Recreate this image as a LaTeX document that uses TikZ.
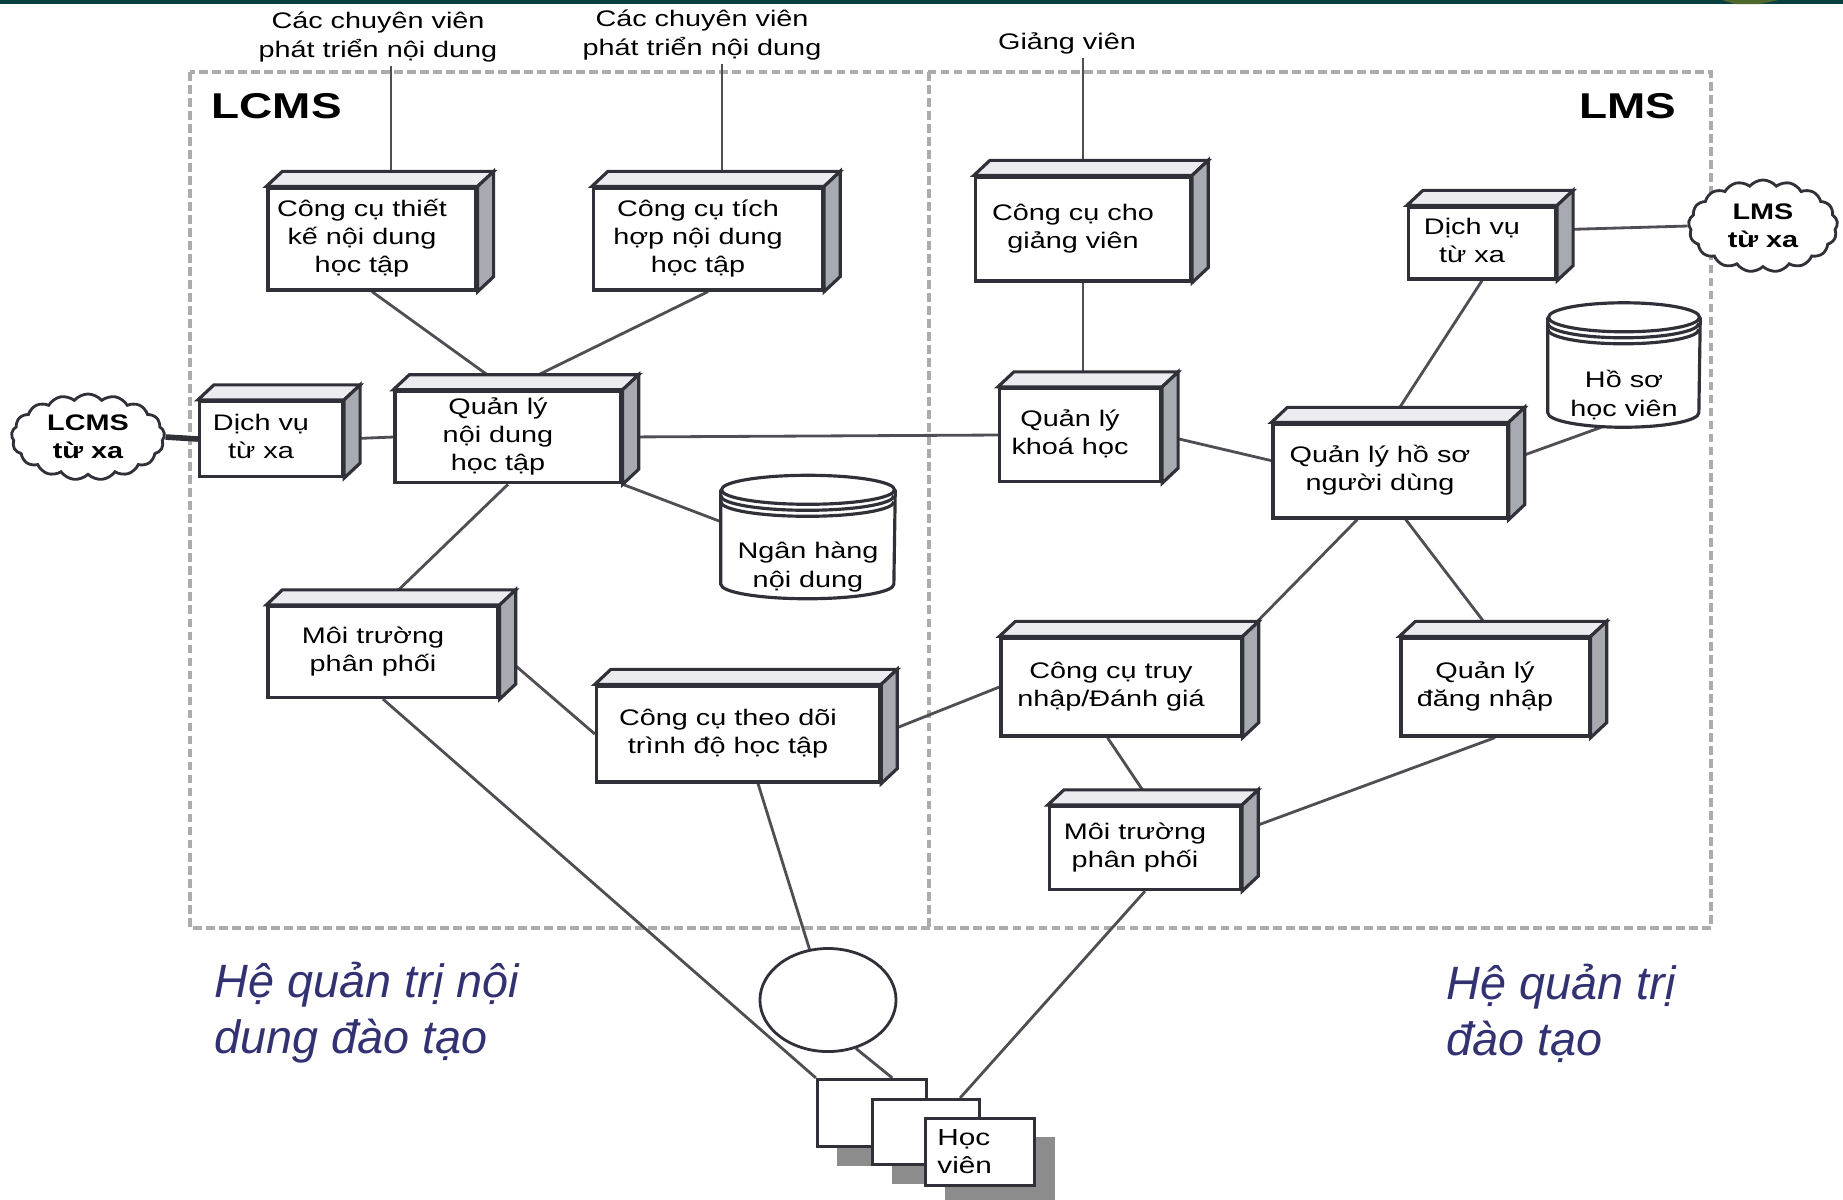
\documentclass[tikz,border=0pt]{standalone}
\usepackage{fontspec}
\setmainfont{Liberation Sans}
\newfontfamily\boxfont[FakeStretch=1.28]{Liberation Sans}
\usetikzlibrary{calc,shapes.geometric,shapes.symbols,shadows}
\definecolor{boxline}{RGB}{48,48,56}
\definecolor{wiregray}{RGB}{78,78,84}
\definecolor{sidegray}{RGB}{168,170,178}
\definecolor{topgray}{RGB}{236,236,240}
\definecolor{textslate}{RGB}{50,50,115}
\definecolor{bandteal}{RGB}{8,64,64}
\definecolor{leafgreen}{RGB}{78,104,44}
\pgfdeclarelayer{background}
\pgfsetlayers{background,main}
\def\cube#1{%
	\draw[boxline, line width=0.9pt, fill=topgray] (#1.north west) -- ++(0.16cm,0.15cm) -- ([shift={(0.16cm,0.15cm)}]#1.north east) -- (#1.north east) -- cycle;
	\draw[boxline, line width=0.9pt, fill=sidegray] (#1.north east) -- ++(0.16cm,0.15cm) -- ([shift={(0.16cm,0.15cm)}]#1.south east) -- (#1.south east) -- cycle;
}
\def\drum#1#2#3#4#5{%
	\node[minimum width={2*#3}, minimum height=#4, inner sep=0pt] (#1) at (#2) {};
	\draw[boxline, line width=0.9pt, fill=white] ([yshift=-1.45mm]#1.north west) -- ([yshift=1.45mm]#1.south west) arc (180:360:#3 and 1.45mm) -- ([yshift=-1.45mm]#1.north east);
	\draw[boxline, line width=0.9pt, fill=white] ([yshift=-1.45mm]#1.north) ellipse (#3 and 1.45mm);
	\draw[boxline, line width=0.9pt] ([yshift=-2.05mm]#1.north west) arc (180:360:#3 and 1.45mm);
	\draw[boxline, line width=0.9pt] ([yshift=-2.65mm]#1.north west) arc (180:360:#3 and 1.45mm);
	\node[toplabel] (#1t) at ([yshift=-3mm]#1.center) {#5};
}
% box text sits a little left of the box centre
\def\lines#1{\begin{tabular}{@{}c@{}}#1\end{tabular}\hspace*{2mm}}

\begin{document}
\begin{tikzpicture}[x=0.01cm, y=-0.01cm,
		unitbox/.style={draw=boxline, line width=0.9pt, fill=white, inner sep=1pt, font=\boxfont\fontsize{6.4}{8}\selectfont},
		toplabel/.style={align=center, inner sep=1pt, font=\boxfont\fontsize{6.4}{8}\selectfont},
		wireline/.style={draw=wiregray, line width=0.8pt},
		frameline/.style={draw=gray!65, line width=1.1pt, dash pattern=on 2.5pt off 1.2pt},
		remotecloud/.style={cloud, cloud puffs=17, cloud puff arc=100, draw=boxline, line width=0.8pt, fill=white, align=center, inner sep=0pt, font=\boxfont\bfseries\fontsize{6.4}{8}\selectfont},
		sysname/.style={inner sep=0pt, font=\boxfont\bfseries\fontsize{10.2}{12}\selectfont},
		areanote/.style={align=left, inner sep=0pt, text=textslate, font=\itshape\fontsize{13.3}{15.9}\selectfont}]
	%%%%% START %%%%%
	
	\useasboundingbox (0,0) rectangle (1843,1199);
	\fill[bandteal] (0,0) rectangle (1843,4);
	\fill[leafgreen] (1722,0) -- (1778,0) -- (1760,4) -- (1735,4) -- cycle;
	
	\node[toplabel] (devA) at (378,37) {Các chuyên viên\\phát triển nội dung};
	\node[toplabel] (devB) at (702,35) {Các chuyên viên\\phát triển nội dung};
	\node[toplabel] (lect) at (1067,43) {Giảng viên};
	\node[sysname, anchor=west] (lcms) at (211,106) {LCMS};
	\node[sysname] (lms) at (1628,106) {LMS};
	
	% LCMS side
	\node[unitbox, minimum width=2.08cm, minimum height=1.02cm] (dsgn) at (372,239) {\lines{Công cụ thiết\\kế nội dung\\học tập}};
	\cube{dsgn}
	\node[unitbox, minimum width=2.29cm, minimum height=1.02cm] (integ) at (708,239) {\lines{Công cụ tích\\hợp nội dung\\học tập}};
	\cube{integ}
	\node[unitbox, minimum width=2.26cm, minimum height=0.88cm] (cmgmt) at (508,437) {\lines{Quản lý\\nội dung\\học tập}};
	\cube{cmgmt}
	\node[unitbox, minimum width=1.43cm, minimum height=0.75cm] (rsvcL) at (271,439) {\lines{Dịch vụ\\từ xa}};
	\cube{rsvcL}
	\node[remotecloud, minimum width=1.53cm, minimum height=0.86cm, aspect=1.8] (lcmsC) at (88,437) {LCMS\\từ xa};
	\drum{bank}{808,537}{0.865cm}{1.22cm}{Ngân hàng\\nội dung}
	\node[unitbox, minimum width=2.30cm, minimum height=0.91cm] (envL) at (383,652) {\lines{Môi trường\\phân phối}};
	\cube{envL}
	\node[unitbox, minimum width=2.83cm, minimum height=0.96cm] (track) at (738,734) {\lines{Công cụ theo dõi\\trình độ học tập}};
	\cube{track}
	
	% LMS side
	\node[unitbox, minimum width=2.15cm, minimum height=1.04cm] (tutor) at (1083,229) {\lines{Công cụ cho\\giảng viên}};
	\cube{tutor}
	\node[unitbox, minimum width=1.61cm, minimum height=0.93cm] (course) at (1080,435) {\lines{Quản lý\\khoá học}};
	\cube{course}
	\node[unitbox, minimum width=1.47cm, minimum height=0.72cm] (rsvcR) at (1482,243) {\lines{Dịch vụ\\từ xa}};
	\cube{rsvcR}
	\node[remotecloud, minimum width=1.49cm, minimum height=0.92cm, aspect=1.62] (lmsC) at (1763,226) {LMS\\từ xa};
	\drum{hoso}{1624,365}{0.755cm}{1.23cm}{Hồ sơ\\học viên}
	\node[unitbox, minimum width=2.34cm, minimum height=0.94cm] (profile) at (1390,471) {\lines{Quản lý hồ sơ\\người dùng}};
	\cube{profile}
	\node[unitbox, minimum width=2.40cm, minimum height=0.98cm] (assess) at (1121,687) {\lines{Công cụ truy\\nhập/Đánh giá}};
	\cube{assess}
	\node[unitbox, minimum width=1.88cm, minimum height=0.98cm] (login) at (1495,687) {\lines{Quản lý\\đăng nhập}};
	\cube{login}
	\node[unitbox, minimum width=1.91cm, minimum height=0.83cm] (envR) at (1145,848) {\lines{Môi trường\\phân phối}};
	\cube{envR}
	
	% learners
	\node[draw=boxline, line width=0.8pt, ellipse, minimum width=1.36cm, minimum height=1.03cm, inner sep=0pt] (opt) at (828,1000) {};
	\node[draw=boxline, line width=0.9pt, fill=white, minimum width=1.09cm, minimum height=0.67cm, drop shadow={shadow xshift=0.2cm, shadow yshift=-0.19cm, fill=black!45, opacity=1}] (r1) at (872,1113) {};
	\node[draw=boxline, line width=0.9pt, fill=white, minimum width=1.07cm, minimum height=0.65cm, drop shadow={shadow xshift=0.2cm, shadow yshift=-0.19cm, fill=black!45, opacity=1}] (r2) at (926,1132) {};
	\node[draw=boxline, line width=0.9pt, fill=white, minimum height=0.67cm, text width=0.85cm, inner xsep=0.12cm, align=left, font=\boxfont\fontsize{6.6}{8}\selectfont, drop shadow={shadow xshift=0.2cm, shadow yshift=-0.19cm, fill=black!45, opacity=1}] (r3) at (980,1152) {Học\\viên};
	
	\node[areanote, anchor=west] (lcmsNote) at (214,1013) {Hệ quản trị nội\\dung đào tạo};
	\node[areanote, anchor=west] (lmsNote) at (1446,1013) {Hệ quản trị\\đào tạo};
	
	\begin{pgfonlayer}{background}
		\draw[frameline] (190,72) rectangle (1711,928);
		\draw[frameline] (929,72) -- (929,928);
		
		\draw[wireline] ([xshift=1.3mm]devA.south) -- ([xshift=1.3mm]devA.south |- dsgn.north);
		\draw[wireline] ([xshift=2mm]devB.south) -- ([xshift=2mm]devB.south |- integ.north);
		\draw[wireline] (tutor.north |- lect.south) -- (tutor.north);
		
		\draw[wireline] (dsgn.south) -- (cmgmt.north);
		\draw[wireline] (integ.south) -- (cmgmt.north);
		\draw[boxline, line width=1.6pt] (lcmsC.east) -- (rsvcL.west);
		\draw[wireline] (rsvcL.east) -- (cmgmt.west);
		\draw[wireline] (cmgmt.east) -- (course.west);
		\draw[wireline] (cmgmt.south east) -- (bank.170);
		\draw[wireline] (cmgmt.south) -- (envL.north);
		\draw[wireline] (envL.east) -- (track.west);
		\draw[wireline] (envL.south) -- (r1.north west);
		\draw[wireline] (track.-68) -- (opt.110);
		\draw[wireline] (opt.-60) -- (r1.60);
		\draw[wireline] (track.east) -- (assess.west);
		
		\draw[wireline] (tutor.south) -- (tutor.south |- course.north);
		\draw[wireline] (course.east) -- (profile.175);
		\draw[wireline] (rsvcR.south) -- (profile.north);
		\draw[wireline] (rsvcR.10) -- (lmsC.west);
		\draw[wireline] (hoso.-110) -- (profile.5);
		\draw[wireline] (profile.-124) -- (assess.north east);
		\draw[wireline] (profile.-72) -- (login.north);
		\draw[wireline] (assess.-105) -- (envR.80);
		\draw[wireline] (login.south) -- (envR.10);
		\draw[wireline] (envR.south) -- (r2.45);
	\end{pgfonlayer}
	
	%%%%% END %%%%%
\end{tikzpicture}
\end{document}
